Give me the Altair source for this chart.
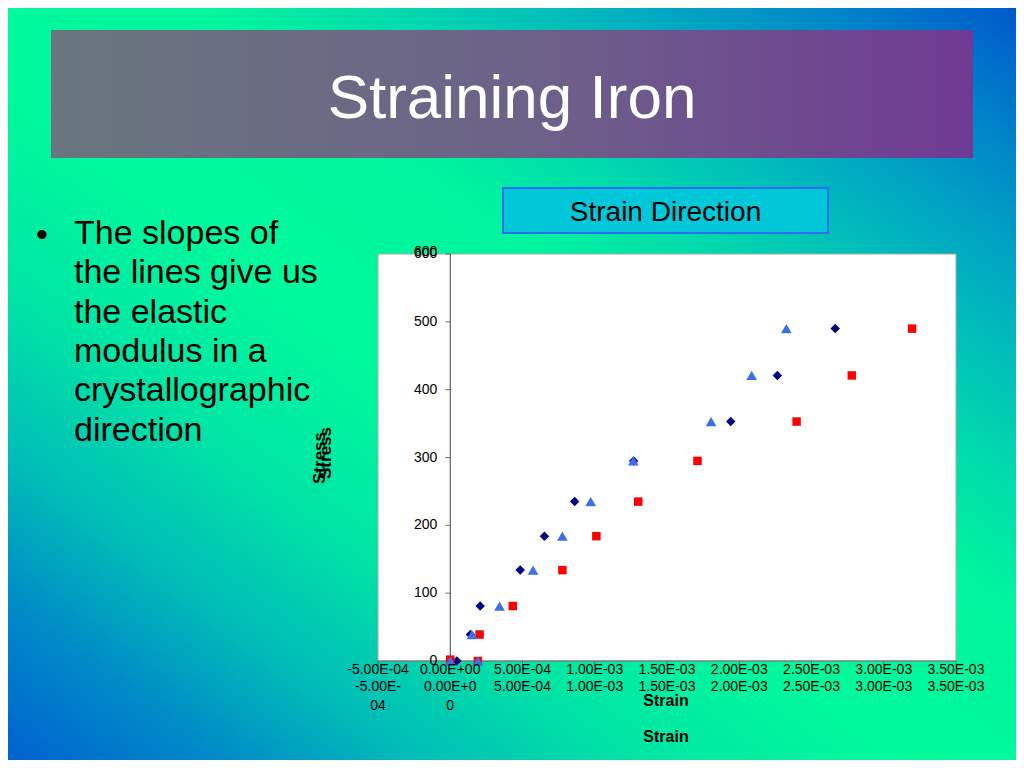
import altair as alt
import pandas as pd

# ---------------- data ----------------
diamond_strain = [4.6e-5, 1.4e-4, 2.07e-4, 4.84e-4, 6.52e-4, 8.61e-4, 1.269e-3, 1.941e-3, 2.264e-3, 2.664e-3]
diamond_stress = [0, 39, 81, 134, 184, 235, 295, 353, 421, 490]

triangle_strain = [0.0, 1.91e-4, 1.5e-4, 3.41e-4, 5.73e-4, 7.76e-4, 9.72e-4, 1.267e-3, 1.805e-3, 2.086e-3, 2.326e-3]
triangle_stress = [0, 0, 39, 81, 134, 184, 235, 295, 353, 421, 490]

square_strain = [0.0, 1.91e-4, 2.03e-4, 4.33e-4, 7.76e-4, 1.011e-3, 1.301e-3, 1.711e-3, 2.397e-3, 2.779e-3, 3.196e-3]
square_stress = [2, 0, 39, 81, 134, 184, 235, 295, 353, 421, 490]

x_ticks = [-5e-4, 0.0, 5e-4, 1e-3, 1.5e-3, 2e-3, 2.5e-3, 3e-3, 3.5e-3]
x_labels_row1 = ["-5.00E-04", "0.00E+00", "5.00E-04", "1.00E-03", "1.50E-03",
                 "2.00E-03", "2.50E-03", "3.00E-03", "3.50E-03"]
x_labels_row2 = ["-5.00E-\n04", "0.00E+0\n0", "5.00E-04", "1.00E-03", "1.50E-03",
                 "2.00E-03", "2.50E-03", "3.00E-03", "3.50E-03"]
y_ticks = [0, 100, 200, 300, 400, 500, 600]
y_labels = ["0", "100", "200", "300", "400", "500", "600"]

slide_title = "Straining Iron"
bullet_lines = ["The slopes of", "the lines give us", "the elastic",
                "modulus in a", "crystallographic", "direction"]
box_label = "Strain Direction"
x_title = "Strain"
y_title = "Stress"

# ---------------- layout ----------------
FONT = "Liberation Sans"
W, H = 578, 407

xs = alt.Scale(domain=[-5e-4, 3.5e-3], nice=False, zero=False)
ys = alt.Scale(domain=[0, 600], nice=False, zero=False)

def X(field):
    return alt.X(field, scale=xs, axis=None)

def Y(field):
    return alt.Y(field, scale=ys, axis=None)

def deco():
    return alt.Chart(pd.DataFrame({"k": [0]}))

bg_grad = alt.Gradient(
    gradient="linear", x1=0, y1=1, x2=1, y2=0,
    stops=[
        alt.GradientStop(offset=0.0, color="#0062D0"),
        alt.GradientStop(offset=0.10, color="#0088C8"),
        alt.GradientStop(offset=0.20, color="#00BBB8"),
        alt.GradientStop(offset=0.32, color="#00E6A5"),
        alt.GradientStop(offset=0.45, color="#00FA9B"),
        alt.GradientStop(offset=0.60, color="#00F59E"),
        alt.GradientStop(offset=0.70, color="#00D5AF"),
        alt.GradientStop(offset=0.80, color="#00B0C0"),
        alt.GradientStop(offset=0.90, color="#0088C8"),
        alt.GradientStop(offset=1.0, color="#0058CC"),
    ],
)
background = deco().mark_rect(color=bg_grad, strokeWidth=0).encode(
    x=alt.value(-370), x2=alt.value(638), y=alt.value(-246), y2=alt.value(506)
)

title_grad = alt.Gradient(
    gradient="linear", x1=0, y1=0, x2=1, y2=0,
    stops=[
        alt.GradientStop(offset=0.0, color="#69767E"),
        alt.GradientStop(offset=0.5, color="#6C6388"),
        alt.GradientStop(offset=1.0, color="#703A94"),
    ],
)
title_box = deco().mark_rect(color=title_grad, strokeWidth=0).encode(
    x=alt.value(-327), x2=alt.value(595), y=alt.value(-224), y2=alt.value(-96)
)
title_text = deco().mark_text(
    text=slide_title, font=FONT, fontSize=62, color="white",
    align="center", baseline="alphabetic"
).encode(x=alt.value(134), y=alt.value(-136))

bullet_dot = deco().mark_text(
    text="•", font=FONT, fontSize=34, color="black",
    align="center", baseline="alphabetic"
).encode(x=alt.value(-336), y=alt.value(-8))
bullet_text = deco().mark_text(
    text=bullet_lines, font=FONT, fontSize=34, color="black",
    align="left", baseline="alphabetic", lineHeight=39.3
).encode(x=alt.value(-304), y=alt.value(-10))

sd_box = deco().mark_rect(fill="#00C8D8", stroke="#2F6FEF", strokeWidth=2).encode(
    x=alt.value(125), x2=alt.value(450), y=alt.value(-66), y2=alt.value(-21)
)
sd_text = deco().mark_text(
    text=box_label, font=FONT, fontSize=28, color="black",
    align="center", baseline="alphabetic"
).encode(x=alt.value(287.5), y=alt.value(-33))

plot_bg = deco().mark_rect(fill="white", stroke="#A8A8A8", strokeWidth=1).encode(
    x=alt.value(0), x2=alt.value(W), y=alt.value(0), y2=alt.value(H)
)

# ---------------- axes (drawn from the tick lists through the scales) ----------------
df_ydom = pd.DataFrame({"strain": [0.0], "s0": [y_ticks[0]], "s1": [y_ticks[-1]]})
y_domain = alt.Chart(df_ydom).mark_rule(color="#404040", strokeWidth=1).encode(
    x=X("strain:Q"), y=Y("s0:Q"), y2="s1"
)
df_xdom = pd.DataFrame({"a": [x_ticks[0]], "b": [x_ticks[-1]], "stress": [0]})
x_domain = alt.Chart(df_xdom).mark_rule(color="#5A6A6A", strokeWidth=1).encode(
    x=X("a:Q"), x2="b", y=Y("stress:Q")
)

df_yt = pd.DataFrame({"strain": [0.0] * len(y_ticks), "stress": y_ticks, "lab": y_labels})
y_tickmarks = alt.Chart(df_yt).mark_tick(
    orient="horizontal", size=5, thickness=1, color="#404040", xOffset=-2.5
).encode(x=X("strain:Q"), y=Y("stress:Q"))
y_ticklabels = alt.Chart(df_yt).mark_text(
    font=FONT, fontSize=14, color="black", align="right", baseline="middle", dx=-13
).encode(x=X("strain:Q"), y=Y("stress:Q"), text="lab:N")

df_xt = pd.DataFrame({"strain": x_ticks, "lab1": x_labels_row1, "lab2": x_labels_row2})
x_tickmarks = alt.Chart(df_xt).mark_tick(
    orient="vertical", size=5, thickness=1, color="#505050"
).encode(x=X("strain:Q"), y=alt.value(H + 2.5))
x_row1 = alt.Chart(df_xt).mark_text(
    font=FONT, fontSize=14, color="black", align="center", baseline="top"
).encode(x=X("strain:Q"), y=alt.value(H + 2), text="lab1:N")
x_row2 = alt.Chart(df_xt).mark_text(
    font=FONT, fontSize=14, color="black", align="center",
    baseline="top", lineBreak="\n", lineHeight=19
).encode(x=X("strain:Q"), y=alt.value(H + 19), text="lab2:N")

# duplicated top y label
df_dup = pd.DataFrame({"strain": [0.0], "stress": [603], "lab": ["600"]})
dup600 = alt.Chart(df_dup).mark_text(
    font=FONT, fontSize=14, color="black", align="right", baseline="middle", dx=-13
).encode(x=X("strain:Q"), y=Y("stress:Q"), text="lab:N")

# ---------------- points ----------------
df_d = pd.DataFrame({"strain": diamond_strain, "stress": diamond_stress})
df_t = pd.DataFrame({"strain": triangle_strain, "stress": triangle_stress})
df_s = pd.DataFrame({"strain": square_strain, "stress": square_stress})

diamonds = alt.Chart(df_d).mark_point(
    shape="diamond", filled=True, size=90, color="#000080", opacity=1, clip=False
).encode(x=X("strain:Q"), y=Y("stress:Q"))
squares = alt.Chart(df_s).mark_point(
    shape="square", filled=True, size=72, color="#FF0000", opacity=1, clip=False
).encode(x=X("strain:Q"), y=Y("stress:Q"))
triangles = alt.Chart(df_t).mark_point(
    shape="triangle-up", filled=True, size=115, color="#3D6FE8", opacity=1, clip=False
).encode(x=X("strain:Q"), y=Y("stress:Q"))

# ---------------- axis titles (duplicated as in the reference) ----------------
strain_t1 = deco().mark_text(text=x_title, font=FONT, fontSize=16, fontWeight="bold",
                             color="black", align="center", baseline="middle"
                             ).encode(x=alt.value(288), y=alt.value(447))
strain_t2 = deco().mark_text(text=x_title, font=FONT, fontSize=16, fontWeight="bold",
                             color="black", align="center", baseline="middle"
                             ).encode(x=alt.value(288), y=alt.value(483))
stress_t1 = deco().mark_text(text=y_title, font=FONT, fontSize=17, fontWeight="bold",
                             color="black", align="center", baseline="middle", angle=270
                             ).encode(x=alt.value(-58), y=alt.value(204))
stress_t2 = deco().mark_text(text=y_title, font=FONT, fontSize=17, fontWeight="bold",
                             color="black", align="center", baseline="middle", angle=270
                             ).encode(x=alt.value(-52), y=alt.value(199))

chart = alt.layer(
    background, title_box, title_text, bullet_dot, bullet_text, sd_box, sd_text,
    plot_bg, x_domain, y_domain, y_tickmarks, x_tickmarks,
    diamonds, squares, triangles,
    y_ticklabels, dup600, x_row1, x_row2,
    strain_t1, strain_t2, stress_t1, stress_t2,
).properties(
    width=W, height=H,
    padding={"left": 370, "top": 246, "right": 60, "bottom": 99},
    autosize=alt.AutoSizeParams(type="none"),
).configure_view(stroke=None)

chart.save("out.html", embed_options={"renderer": "svg", "actions": False})
